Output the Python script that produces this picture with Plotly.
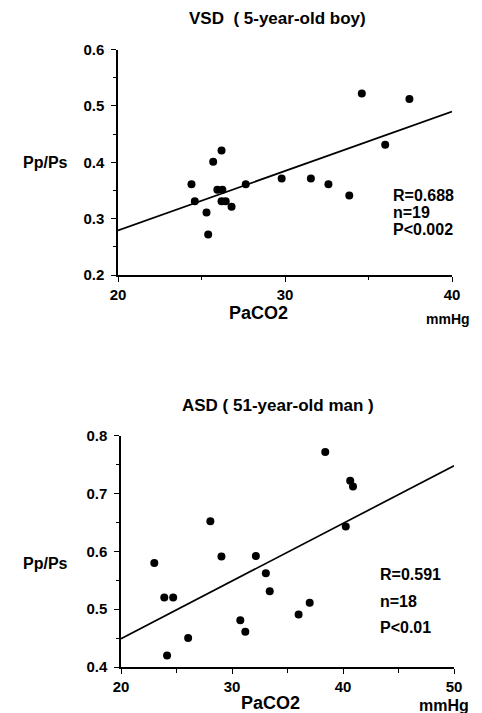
import plotly.graph_objects as go

# VSD (top) data
vsd_x = [24.4, 24.6, 25.3, 25.4, 25.7, 26.2, 25.95, 26.25, 26.2, 26.45, 26.8, 27.65,
         29.8, 31.55, 32.6, 33.85, 34.6, 36.0, 37.45]
vsd_y = [0.361, 0.331, 0.311, 0.272, 0.401, 0.421, 0.351, 0.351, 0.331, 0.331, 0.321, 0.361,
         0.371, 0.371, 0.361, 0.341, 0.522, 0.431, 0.512]
vsd_fit_x = [20, 40]
vsd_fit_y = [0.279, 0.490]

# ASD (bottom) data
asd_x = [23.0, 23.9, 24.7, 24.15, 26.05, 28.05, 29.05, 30.75, 31.2, 32.15, 33.05, 33.4,
         36.0, 37.0, 38.4, 40.25, 40.65, 40.9]
asd_y = [0.580, 0.520, 0.520, 0.420, 0.450, 0.652, 0.591, 0.481, 0.461, 0.592, 0.562, 0.531,
         0.491, 0.511, 0.772, 0.643, 0.722, 0.712]
asd_fit_x = [20, 50]
asd_fit_y = [0.449, 0.748]

W, H = 482, 713
OFF = 8  # page body offset of the figure
FONT = "Liberation Sans"

fig = go.Figure()
fig.add_trace(go.Scatter(x=vsd_x, y=vsd_y, mode="markers", xaxis="x", yaxis="y",
                         marker=dict(color="black", size=8), showlegend=False))
fig.add_trace(go.Scatter(x=vsd_fit_x, y=vsd_fit_y, mode="lines", xaxis="x", yaxis="y",
                         line=dict(color="black", width=1.7), showlegend=False))
fig.add_trace(go.Scatter(x=asd_x, y=asd_y, mode="markers", xaxis="x2", yaxis="y2",
                         marker=dict(color="black", size=8), showlegend=False))
fig.add_trace(go.Scatter(x=asd_fit_x, y=asd_fit_y, mode="lines", xaxis="x2", yaxis="y2",
                         line=dict(color="black", width=1.7), showlegend=False))

def px(x):
    return (x - OFF) / W

def py(y):
    return 1 - (y - OFF) / H

tickfont = dict(family=FONT, size=15, color="black", weight="bold")
axcommon = dict(showgrid=False, zeroline=False, showline=True, linecolor="black", linewidth=1.5,
                ticks="outside", ticklen=5, tickwidth=1.2, tickcolor="black", tickfont=tickfont,
                automargin=False)

fig.update_layout(
    width=W, height=H, margin=dict(l=0, r=0, t=0, b=0, pad=0, autoexpand=False),
    autosize=False,
    paper_bgcolor="white", plot_bgcolor="white", showlegend=False,
    xaxis=dict(domain=[px(118), px(452)], range=[20, 40], tickvals=[20, 30, 40], anchor="y",
               minor=dict(tickvals=[25, 35], ticklen=3, ticks="outside", tickcolor="black"), **axcommon),
    yaxis=dict(domain=[py(275), py(49.5)], range=[0.2, 0.6], tickvals=[0.2, 0.3, 0.4, 0.5, 0.6],
               tickformat=".1f", anchor="x", ticklabelstandoff=4,
               minor=dict(tickvals=[0.25, 0.35, 0.45, 0.55], ticklen=3, ticks="outside", tickcolor="black"),
               **axcommon),
    xaxis2=dict(domain=[px(121), px(454)], range=[20, 50], tickvals=[20, 30, 40, 50], anchor="y2",
                minor=dict(tickvals=[25, 35, 45], ticklen=4, ticks="outside", tickcolor="black"), **axcommon),
    yaxis2=dict(domain=[py(667), py(435.7)], range=[0.4, 0.8], tickvals=[0.4, 0.5, 0.6, 0.7, 0.8],
                tickformat=".1f", anchor="x2", ticklabelstandoff=4,
                minor=dict(tickvals=[0.45, 0.55, 0.65, 0.75], ticklen=3, ticks="outside", tickcolor="black"),
                **axcommon),
)

def ann(text, x, y, size=14, bold=True, xanchor="center"):
    fig.add_annotation(text=text, x=px(x), y=py(y), xref="paper", yref="paper", showarrow=False,
                       xanchor=xanchor, yanchor="middle",
                       font=dict(family=FONT, size=size, color="black", weight="bold" if bold else "normal"))

ann("VSD  ( 5-year-old boy)", 277, 18, size=17)
ann("Pp/Ps", 45, 162, size=16)
ann("PaCO2", 258, 313, size=18)
ann("mmHg", 448, 319, size=14)
ann("R=0.688", 391, 195, size=16, xanchor="left")
ann("n=19", 391, 212, size=16, xanchor="left")
ann("P<0.002", 391, 229, size=16, xanchor="left")

ann("ASD ( 51-year-old man )", 278, 405, size=17)
ann("Pp/Ps", 45, 563, size=16)
ann("PaCO2", 270, 703, size=18)
ann("mmHg", 444, 705, size=16)
ann("R=0.591", 378, 574, size=16, xanchor="left")
ann("n=18", 378, 601, size=16, xanchor="left")
ann("P<0.01", 378, 627, size=16, xanchor="left")

fig.write_html("out.html")
